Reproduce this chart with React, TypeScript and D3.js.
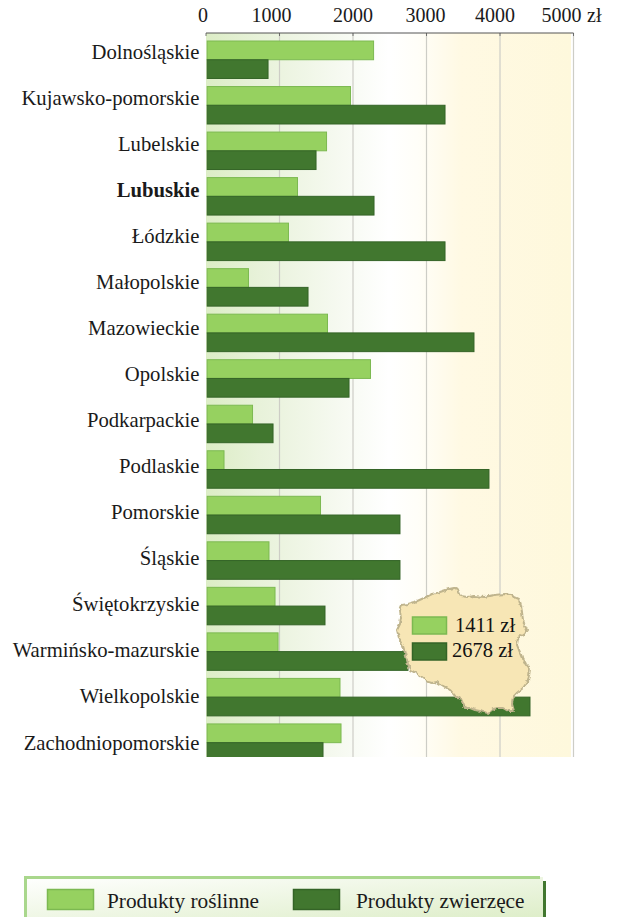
import { useEffect, useRef } from 'react';
import * as d3 from 'd3';

const regions = [
  'Dolnośląskie', 'Kujawsko-pomorskie', 'Lubelskie', 'Lubuskie', 'Łódzkie', 'Małopolskie', 'Mazowieckie', 'Opolskie',
  'Podkarpackie', 'Podlaskie', 'Pomorskie', 'Śląskie', 'Świętokrzyskie', 'Warmińsko-mazurskie', 'Wielkopolskie', 'Zachodniopomorskie',
];
const plantValues = [2280, 1966, 1640, 1245, 1122, 578, 1653, 2238, 633, 245, 1558, 857, 939, 980, 1823, 1837];
const animalValues = [844, 3252, 1497, 2286, 3252, 1388, 3646, 1946, 912, 3850, 2639, 2639, 1619, 2748, 4408, 1592];
const ticks = [0, 1000, 2000, 3000, 4000, 5000];
const tickNudge = [-3, -8, 0, -1, -5, -12];
const averages = ['1411 zł', '2678 zł'];
const seriesNames = ['Produkty roślinne', 'Produkty zwierzęce'];

// zarys mapy, wspolrzedne w pikselach
const polandOutline: [number, number][] = [
  [402, 605], [408, 604], [415, 602], [424, 598], [432, 594], [440, 592], [449, 589], [454, 588], [458, 590], [460, 594],
  [461, 596], [467, 597], [474, 596], [484, 597], [494, 595], [505, 594], [510, 595], [519, 599], [521, 606], [522, 612],
  [523, 620], [525, 626], [527, 630], [524, 634], [518, 638], [517, 645], [519, 650], [522, 657], [526, 664], [530, 669],
  [529, 676], [528, 681], [523, 688], [518, 692], [513, 697], [512, 704], [514, 711], [508, 711], [503, 708], [498, 708],
  [493, 709], [488, 713], [480, 711], [475, 710], [470, 708], [465, 708], [461, 699], [456, 697], [450, 690], [445, 687],
  [437, 682], [432, 683], [428, 682], [422, 677], [416, 673], [410, 670], [408, 664], [406, 656], [403, 646], [399, 638],
  [397, 630], [400, 624], [401, 618], [400, 610],
];

const green = { fill: '#96d160', stroke: '#7cb951' };
const dark = { fill: '#41772f', stroke: '#346427' };

export default function App() {
  const svgRef = useRef<SVGSVGElement>(null);

  useEffect(() => {
    if (!svgRef.current) return;
    const svg = d3.select(svgRef.current);
    svg.selectAll('*').remove();

    const top = 33;
    const bottom = 757;
    const x = d3.scaleLinear().domain([0, 5000]).range([206, 573.5]);
    const y = d3.scaleBand<string>().domain(regions).range([41, 761.4]).paddingInner(0.177);
    const labelY = d3.scalePoint<string>().domain(regions).range([52, 743]);
    const font = '"Liberation Serif", "Times New Roman", serif';

    const defs = svg.append('defs');
    const bg = defs.append('linearGradient').attr('id', 'bg');
    [[0, '#dcedc6'], [0.15, '#e8f2da'], [0.35, '#f5f9ef'], [0.5, '#ffffff'], [0.58, '#fffef8'], [0.7, '#fff9e3'], [1, '#fef8dc']]
      .forEach(([o, c]) => bg.append('stop').attr('offset', o as number).attr('stop-color', c as string));
    const legendBg = defs.append('linearGradient').attr('id', 'legend-bg')
      .attr('x1', 0).attr('y1', 0).attr('x2', 1).attr('y2', 1);
    legendBg.append('stop').attr('offset', 0).attr('stop-color', '#ffffff');
    legendBg.append('stop').attr('offset', 1).attr('stop-color', '#dcedc6');
    defs.append('clipPath').attr('id', 'plot')
      .append('rect').attr('x', 200).attr('y', top).attr('width', 400).attr('height', bottom - top);
    const rough = defs.append('filter').attr('id', 'rough')
      .attr('x', '-5%').attr('y', '-5%').attr('width', '110%').attr('height', '110%');
    rough.append('feTurbulence').attr('type', 'fractalNoise').attr('baseFrequency', 0.22).attr('numOctaves', 2).attr('seed', 4);
    rough.append('feDisplacementMap').attr('in', 'SourceGraphic').attr('scale', 4)
      .attr('xChannelSelector', 'R').attr('yChannelSelector', 'G');

    svg.append('rect').attr('x', x(0)).attr('y', top).attr('width', x(5000) - x(0) - 2.5).attr('height', bottom - top)
      .attr('fill', 'url(#bg)');

    // siatka
    svg.append('g').selectAll('line').data(ticks.slice(1)).enter().append('line')
      .attr('x1', d => x(d)).attr('x2', d => x(d)).attr('y1', top).attr('y2', bottom)
      .attr('stroke', '#cdcdc6').attr('stroke-width', 1.2);

    // os
    svg.append('line').attr('x1', x(0)).attr('x2', x(5000)).attr('y1', top).attr('y2', top)
      .attr('stroke', '#555').attr('stroke-width', 1);
    svg.append('g').selectAll('line').data(ticks).enter().append('line')
      .attr('x1', d => x(d)).attr('x2', d => x(d)).attr('y1', top).attr('y2', top + 3)
      .attr('stroke', '#555').attr('stroke-width', 0.8);
    svg.append('g').selectAll('text').data(ticks).enter().append('text')
      .attr('x', (d, i) => x(d) + tickNudge[i]).attr('y', 22)
      .attr('text-anchor', 'middle').attr('font-family', font).attr('font-size', 20).attr('fill', '#1a1a1a')
      .text(d => d);
    svg.append('text').attr('x', 587).attr('y', 22).attr('font-family', font).attr('font-size', 20).attr('fill', '#1a1a1a').text('zł');

    // slupki
    const bars = svg.append('g').attr('clip-path', 'url(#plot)');
    const drawBars = (values: number[], style: { fill: string; stroke: string }, offset: number) => {
      bars.append('g').selectAll('rect').data(values).enter().append('rect')
        .attr('x', x(0) + 1.2)
        .attr('y', (d, i) => (y(regions[i]) as number) + offset)
        .attr('width', d => x(d) - x(0) - 1.2)
        .attr('height', y.bandwidth() / 2)
        .attr('fill', style.fill).attr('stroke', style.stroke).attr('stroke-width', 1);
    };
    drawBars(plantValues, green, 0);
    drawBars(animalValues, dark, y.bandwidth() / 2);

    svg.append('g').selectAll('text').data(regions).enter().append('text')
      .attr('x', 199.5).attr('y', d => (labelY(d) as number) + 6.5)
      .attr('text-anchor', 'end').attr('font-family', font).attr('font-size', 20.7).attr('fill', '#1a1a1a')
      .attr('font-weight', d => (d === 'Lubuskie' ? 700 : 400))
      .text(d => d);

    // mapa ze srednia krajowa
    svg.append('path').attr('d', d3.line()(polandOutline) + 'Z')
      .attr('fill', '#f7e6b5').attr('stroke', '#bfb48d').attr('stroke-width', 2).attr('stroke-linejoin', 'round')
      .attr('filter', 'url(#rough)');
    [green, dark].forEach((s, i) => {
      svg.append('rect').attr('x', 412.5).attr('y', 617 + i * 26).attr('width', 34).attr('height', 17)
        .attr('fill', s.fill).attr('stroke', s.stroke).attr('stroke-width', 1.5);
    });
    averages.forEach((t, i) => {
      svg.append('text').attr('x', i === 0 ? 455 : 452).attr('y', 632 + i * 25)
        .attr('font-family', font).attr('font-size', 20.5).attr('fill', '#111').text(t);
    });

    // legenda
    svg.append('rect').attr('x', 25).attr('y', 877).attr('width', 518).attr('height', 45).attr('fill', 'url(#legend-bg)');
    svg.append('path').attr('d', 'M25.5 917V877.5H540').attr('fill', 'none').attr('stroke', '#a9d78c').attr('stroke-width', 3);
    svg.append('line').attr('x1', 544.5).attr('x2', 544.5).attr('y1', 881).attr('y2', 917).attr('stroke', dark.fill).attr('stroke-width', 3);
    [green, dark].forEach((s, i) => {
      svg.append('rect').attr('x', i === 0 ? 47.5 : 293.5).attr('y', 889.5).attr('width', 46).attr('height', 20)
        .attr('fill', s.fill).attr('stroke', s.stroke).attr('stroke-width', 1.5);
    });
    seriesNames.forEach((t, i) => {
      svg.append('text').attr('x', i === 0 ? 107 : 356).attr('y', 908)
        .attr('font-family', font).attr('font-size', 21.3).attr('fill', '#1a1a1a').text(t);
    });
  }, []);

  return (
    <svg ref={svgRef} width={617} height={917} style={{ position: 'absolute', left: 0, top: 0, display: 'block' }}></svg>
  );
}
